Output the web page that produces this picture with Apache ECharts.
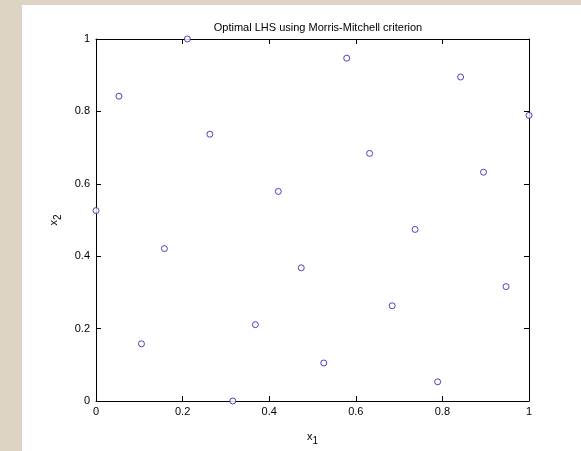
<!DOCTYPE html>
<html>
<head>
<meta charset="utf-8">
<script src="https://cdn.jsdelivr.net/npm/echarts@6/dist/echarts.min.js"></script>
<style>
  html, body { margin: 0; padding: 0; background: #ded4c6; }
  #chart { width: 581px; height: 451px; }
</style>
</head>
<body>
<div id="chart"></div>
<script>
// LHS sample points
let x1 = [0, 0.053, 0.105, 0.158, 0.211, 0.263, 0.316, 0.368, 0.421, 0.474,
          0.526, 0.579, 0.632, 0.684, 0.737, 0.789, 0.842, 0.895, 0.947, 1];
let x2 = [0.526, 0.842, 0.158, 0.421, 1, 0.737, 0, 0.211, 0.579, 0.368,
          0.105, 0.947, 0.684, 0.263, 0.474, 0.053, 0.895, 0.632, 0.316, 0.789];
let ticks = ['0', '0.2', '0.4', '0.6', '0.8', '1'];

let points = x1.map(function (v, i) { return [v, x2[i]]; });

let chart = echarts.init(document.getElementById('chart'));

let font = 'Liberation Sans, Arial, sans-serif';
let tickLabel = function (v) {
    return ticks[Math.round(v * 5)];
};
let axisCommon = {
    type: 'value',
    min: 0,
    max: 1,
    interval: 0.2,
    splitLine: { show: false },
    axisLine: { show: true, onZero: false, lineStyle: { color: '#000', width: 1 } },
    axisTick: { show: true, inside: true, length: 5, lineStyle: { color: '#000' } }
};

let option = {
    backgroundColor: '#ded4c6',
    animation: false,
    graphic: [{
        type: 'rect',
        z: -10,
        shape: { x: 22, y: 5, width: 581 - 22, height: 451 - 5 },
        style: { fill: '#fff' }
    }],
    title: {
        text: 'Optimal LHS using Morris-Mitchell criterion',
        left: 313,
        textAlign: 'center',
        top: 17,
        textStyle: { fontFamily: font, fontSize: 11, fontWeight: 'normal', color: '#000' }
    },
    grid: { left: 96, top: 39, right: 52, bottom: 46 },
    xAxis: [
        Object.assign({}, axisCommon, {
            position: 'bottom',
            name: '{x|x}{s|1}',
            nameLocation: 'middle',
            nameGap: 27,
            nameTextStyle: {
                rich: {
                    x: { fontFamily: font, fontSize: 11, color: '#000' },
                    s: { fontFamily: font, fontSize: 10, color: '#000', padding: [8, 0, 0, 0] }
                }
            },
            axisLabel: { formatter: tickLabel, fontFamily: font, fontSize: 11, color: '#000', margin: 5 }
        }),
        Object.assign({}, axisCommon, {
            position: 'top',
            axisLabel: { show: false }
        })
    ],
    yAxis: [
        Object.assign({}, axisCommon, {
            position: 'left',
            name: '{x|x}{s|2}',
            nameLocation: 'middle',
            nameGap: 33,
            nameRotate: 90,
            nameTextStyle: {
                rich: {
                    x: { fontFamily: font, fontSize: 11, color: '#000' },
                    s: { fontFamily: font, fontSize: 10, color: '#000', padding: [8, 0, 0, 0] }
                }
            },
            axisLabel: { formatter: tickLabel, fontFamily: font, fontSize: 11, color: '#000', margin: 6 }
        }),
        Object.assign({}, axisCommon, {
            position: 'right',
            axisLabel: { show: false }
        })
    ],
    series: [{
        type: 'scatter',
        data: points,
        symbol: 'circle',
        symbolSize: 6,
        clip: false,
        itemStyle: { color: '#fff', borderColor: '#1a1aa8', borderWidth: 1 }
    }]
};

chart.setOption(option);
</script>
</body>
</html>
